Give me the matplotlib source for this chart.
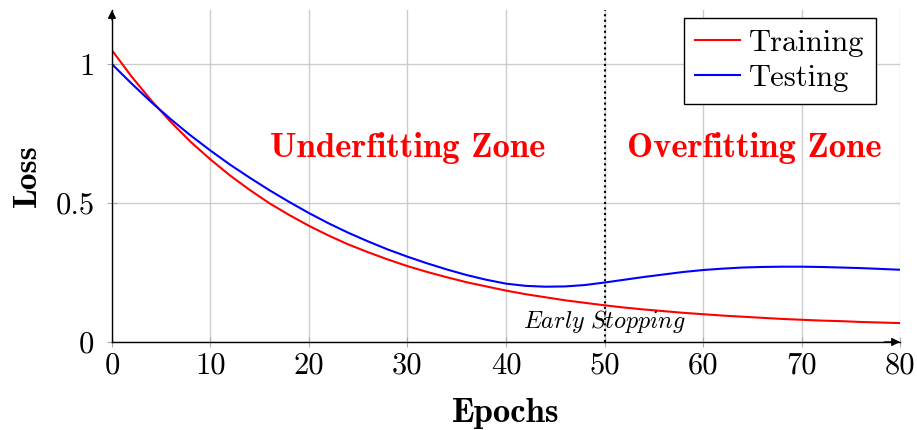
import matplotlib
matplotlib.use('Agg')
import matplotlib.pyplot as plt

epochs = list(range(0, 81, 2))
training = [1.050, 0.955, 0.869, 0.791, 0.720, 0.657, 0.599, 0.547, 0.499, 0.457,
            0.418, 0.383, 0.351, 0.323, 0.297, 0.273, 0.252, 0.233, 0.215, 0.200,
            0.185, 0.172, 0.161, 0.150, 0.141, 0.132, 0.124, 0.117, 0.111, 0.105,
            0.100, 0.095, 0.091, 0.087, 0.083, 0.080, 0.077, 0.075, 0.072, 0.070,
            0.068]
testing = [1.000, 0.930, 0.863, 0.801, 0.743, 0.689, 0.638, 0.591, 0.546, 0.504,
           0.464, 0.427, 0.393, 0.362, 0.333, 0.307, 0.283, 0.261, 0.241, 0.224,
           0.210, 0.202, 0.199, 0.200, 0.205, 0.214, 0.224, 0.234, 0.243, 0.252,
           0.259, 0.264, 0.268, 0.270, 0.271, 0.271, 0.270, 0.268, 0.266, 0.263,
           0.260]
x_ticks = [0, 10, 20, 30, 40, 50, 60, 70, 80]
y_ticks = [0, 0.5, 1]
y_tick_labels = ['0', '0.5', '1']
early_stop = 50

plt.rcParams['mathtext.fontset'] = 'cm'
plt.rcParams['axes.unicode_minus'] = False
RM = 'cmr10'
BF = 'cmb10'

fig = plt.figure(figsize=(9.17, 4.30), dpi=100)
ax = fig.add_axes([0.1221, 0.2047, 0.8594, 0.7720])

ax.plot(epochs, training, color='red', lw=1.5, label='Training', zorder=3)
ax.plot(epochs, testing, color='blue', lw=1.5, label='Testing', zorder=3)

ax.set_xlim(0, 80)
ax.set_ylim(0, 1.195)
ax.set_xticks(x_ticks)
ax.set_yticks(y_ticks)
ax.set_xticklabels([str(t) for t in x_ticks], fontfamily=RM, fontsize=22)
ax.set_yticklabels(y_tick_labels, fontfamily=RM, fontsize=22)
ax.tick_params(direction='inout', length=7, width=0.8, color='#aaaaaa')
ax.tick_params(axis='x', pad=4)
ax.tick_params(axis='y', pad=9)
ax.grid(True, color='#cccccc', lw=1)
ax.set_axisbelow(True)

for s in ['top', 'right']:
    ax.spines[s].set_visible(False)
for s in ['left', 'bottom']:
    ax.spines[s].set_linewidth(1.0)
    ax.spines[s].set_zorder(4)

# arrow heads on the axes
ax.annotate('', xy=(1.0, 0), xytext=(0.98, 0), xycoords='axes fraction',
            arrowprops=dict(arrowstyle='-|>', color='black', lw=1.0,
                            mutation_scale=12, shrinkA=0, shrinkB=0))
ax.annotate('', xy=(0, 1.0), xytext=(0, 0.97), xycoords='axes fraction',
            arrowprops=dict(arrowstyle='-|>', color='black', lw=1.0,
                            mutation_scale=12, shrinkA=0, shrinkB=0))

# early stopping marker
ax.axvline(early_stop, color='black', ls=':', lw=1.5, zorder=2)
ax.text(early_stop, 0.072, r'$\mathit{Early\ Stopping}$', ha='center', va='center',
        fontsize=17.3)

ax.text(30, 0.70, 'Underfitting Zone', color='red', fontfamily=BF, fontsize=25,
        ha='center', va='center')
ax.text(65.2, 0.70, 'Overfitting Zone', color='red', fontfamily=BF, fontsize=25,
        ha='center', va='center')

ax.set_xlabel('Epochs', fontfamily=BF, fontsize=25, labelpad=13)
ax.set_ylabel('Loss', fontfamily=BF, fontsize=24, labelpad=10)

leg = ax.legend(loc='upper right', bbox_to_anchor=(0.9695, 0.976),
                prop={'family': RM, 'size': 22}, fancybox=False, framealpha=1,
                edgecolor='black', borderaxespad=0, handlelength=1.45,
                handletextpad=0.3, borderpad=0.38, labelspacing=0.25)
leg.get_frame().set_linewidth(1.0)

fig.savefig('out.png', dpi=100)
